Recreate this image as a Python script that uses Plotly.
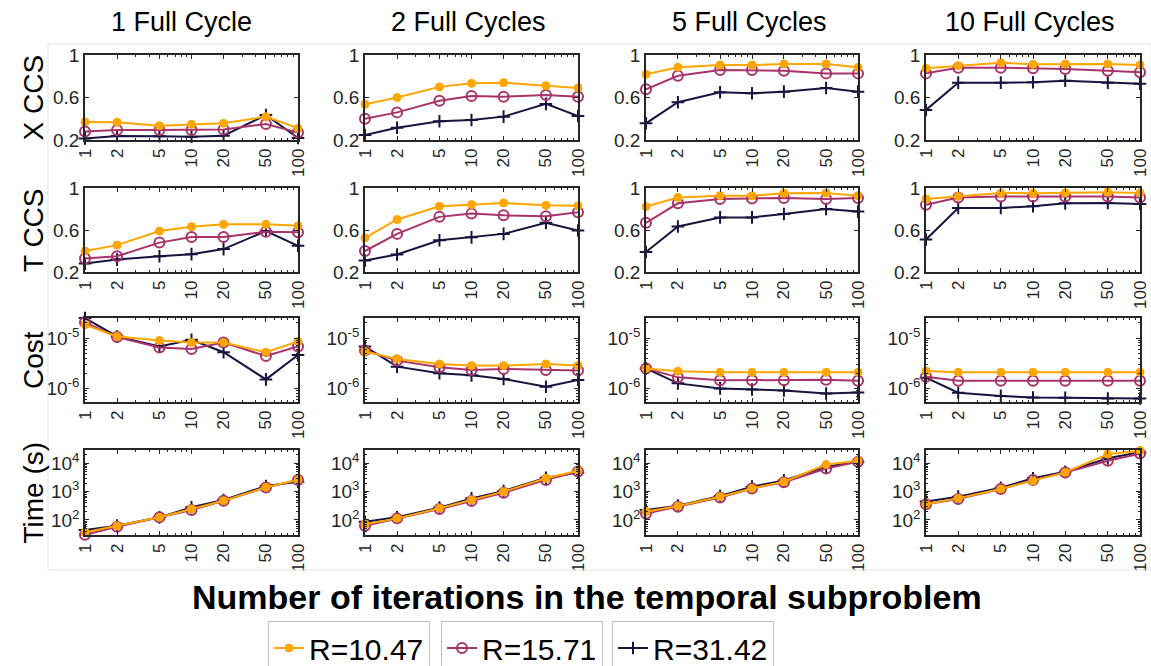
import plotly.graph_objects as go

W, H = 1151, 666

iterations = [1, 2, 5, 10, 20, 50, 100]
tick_labels = ["1", "2", "5", "10", "20", "50", "100"]
cycle_titles = ["1 Full Cycle", "2 Full Cycles", "5 Full Cycles", "10 Full Cycles"]
row_labels = ["X CCS", "T CCS", "Cost", "Time (s)"]
series_names = ["R=10.47", "R=15.71", "R=31.42"]

# X CCS per cycle column
xccs_R1047 = [[0.37, 0.367, 0.335, 0.348, 0.357, 0.42, 0.31],
              [0.536, 0.60, 0.70, 0.733, 0.74, 0.71, 0.69],
              [0.818, 0.884, 0.906, 0.906, 0.915, 0.915, 0.884],
              [0.875, 0.90, 0.928, 0.912, 0.915, 0.915, 0.906]]
xccs_R1571 = [[0.28, 0.295, 0.295, 0.295, 0.30, 0.35, 0.27],
              [0.40, 0.46, 0.57, 0.614, 0.608, 0.624, 0.608],
              [0.677, 0.805, 0.859, 0.859, 0.852, 0.827, 0.827],
              [0.827, 0.88, 0.88, 0.875, 0.868, 0.852, 0.837]]
xccs_R3142 = [[0.215, 0.237, 0.235, 0.23, 0.24, 0.435, 0.22],
              [0.247, 0.316, 0.376, 0.388, 0.42, 0.54, 0.426],
              [0.357, 0.555, 0.649, 0.64, 0.655, 0.69, 0.655],
              [0.483, 0.74, 0.74, 0.743, 0.758, 0.74, 0.73]]

# T CCS
tccs_R1047 = [[0.40, 0.456, 0.59, 0.632, 0.654, 0.654, 0.64],
              [0.525, 0.70, 0.826, 0.842, 0.858, 0.835, 0.83],
              [0.823, 0.91, 0.927, 0.927, 0.95, 0.953, 0.927],
              [0.896, 0.92, 0.953, 0.95, 0.953, 0.96, 0.953]]
tccs_R1571 = [[0.328, 0.35, 0.48, 0.533, 0.533, 0.584, 0.578],
              [0.40, 0.563, 0.725, 0.756, 0.74, 0.73, 0.77],
              [0.668, 0.854, 0.896, 0.90, 0.905, 0.896, 0.905],
              [0.84, 0.91, 0.918, 0.918, 0.92, 0.92, 0.91]]
tccs_R3142 = [[0.28, 0.318, 0.35, 0.37, 0.418, 0.59, 0.45],
              [0.31, 0.367, 0.503, 0.53, 0.563, 0.668, 0.595],
              [0.39, 0.633, 0.72, 0.72, 0.753, 0.80, 0.775],
              [0.51, 0.81, 0.81, 0.826, 0.854, 0.857, 0.848]]

# Cost
cost_R1047 = [[1.85e-5, 1.08e-5, 9.0e-6, 8.2e-6, 8.2e-6, 5.25e-6, 8.6e-6],
              [5.4e-6, 3.86e-6, 3.07e-6, 2.84e-6, 2.84e-6, 3.07e-6, 2.84e-6],
              [2.5e-6, 2.2e-6, 2.09e-6, 2.09e-6, 2.09e-6, 2.09e-6, 2.09e-6],
              [2.22e-6, 2.09e-6, 2.09e-6, 2.09e-6, 2.09e-6, 2.09e-6, 2.09e-6]]
cost_R1571 = [[2.06e-5, 1.05e-5, 6.5e-6, 6.1e-6, 8.2e-6, 4.4e-6, 6.8e-6],
              [5.67e-6, 3.57e-6, 2.63e-6, 2.33e-6, 2.44e-6, 2.33e-6, 2.26e-6],
              [2.5e-6, 1.66e-6, 1.45e-6, 1.45e-6, 1.45e-6, 1.48e-6, 1.42e-6],
              [1.71e-6, 1.42e-6, 1.42e-6, 1.42e-6, 1.42e-6, 1.42e-6, 1.42e-6]]
cost_R3142 = [[2.5e-5, 1.08e-5, 6.8e-6, 9.3e-6, 5.25e-6, 1.51e-6, 4.6e-6],
              [6.8e-6, 2.71e-6, 2.0e-6, 1.82e-6, 1.54e-6, 1.08e-6, 1.47e-6],
              [2.5e-6, 1.26e-6, 1.0e-6, 9.5e-7, 9.1e-7, 7.9e-7, 8.3e-7],
              [1.63e-6, 8.2e-7, 7.1e-7, 6.6e-7, 6.5e-7, 6.3e-7, 6.3e-7]]

# Time (s)
time_R1047 = [[37, 62, 124, 245, 480, 1420, 2600],
              [71, 114, 258, 510, 1000, 2960, 5500],
              [197, 310, 665, 1300, 2250, 9100, 12300],
              [360, 580, 1240, 2400, 4800, 21000, 28000]]
time_R1571 = [[30, 58, 124, 225, 480, 1390, 2600],
              [63, 114, 244, 470, 920, 2600, 5100],
              [170, 295, 620, 1300, 2150, 6600, 11400],
              [360, 550, 1240, 2600, 4700, 12300, 22000]]
time_R3142 = [[44, 63, 124, 280, 510, 1580, 2250],
              [87, 124, 273, 580, 1060, 3100, 4700],
              [225, 320, 700, 1500, 2500, 7600, 11400],
              [445, 665, 1380, 2950, 5000, 15000, 24500]]

metrics = [
    (xccs_R1047, xccs_R1571, xccs_R3142),
    (tccs_R1047, tccs_R1571, tccs_R3142),
    (cost_R1047, cost_R1571, cost_R3142),
    (time_R1047, time_R1571, time_R3142),
]

colors = ["#FFA500", "#A8336B", "#16153F"]
markers = [dict(symbol="circle", size=8, color="#FFA500", line=dict(width=1, color="#FFA500")),
           dict(symbol="circle-open", size=10, color="#A8336B", line=dict(width=2, color="#A8336B")),
           dict(symbol="cross-thin", size=9, color="#16153F", line=dict(width=2, color="#16153F"))]

cols_px = [(85, 298), (365, 578), (646, 858), (926, 1140)]
rows_px = [(55, 140), (188, 272), (318, 402), (450, 535)]

TXT = "#262626"
FONT = "Liberation Sans, Arial, sans-serif"

fig = go.Figure()
layout = dict(
    width=W, height=H, margin=dict(l=0, r=0, t=0, b=0, autoexpand=False),
    paper_bgcolor="white", plot_bgcolor="white",
    font=dict(family=FONT, color=TXT),
    annotations=[], shapes=[],
)

legend_names = ["legend", "legend2", "legend3"]

idx = 0
for r in range(4):
    for c in range(4):
        idx += 1
        xa = "x" if idx == 1 else f"x{idx}"
        ya = "y" if idx == 1 else f"y{idx}"
        xkey = "xaxis" if idx == 1 else f"xaxis{idx}"
        ykey = "yaxis" if idx == 1 else f"yaxis{idx}"
        x0, x1 = cols_px[c]
        y0, y1 = rows_px[r]
        layout[xkey] = dict(
            domain=[x0 / W, x1 / W], anchor=ya, type="log", range=[0, 2],
            tickmode="array", tickvals=iterations, ticktext=tick_labels,
            tickangle=-90, ticks="inside", ticklen=4, tickwidth=1, tickcolor=TXT,
            showline=True, linecolor=TXT, linewidth=1.5, mirror="ticks",
            showgrid=False, zeroline=False, automargin=False,
            tickfont=dict(size=17, color=TXT, family=FONT),
            minor=dict(ticks="inside", ticklen=2, tickcolor=TXT, dtick="D1", showgrid=False),
        )
        ydict = dict(
            domain=[1 - y1 / H, 1 - y0 / H], anchor=xa,
            ticks="inside", ticklen=4, tickwidth=1, tickcolor=TXT,
            showline=True, linecolor=TXT, linewidth=1.5, mirror="ticks",
            showgrid=False, zeroline=False, automargin=False,
            tickfont=dict(size=19, color=TXT, family=FONT),
        )
        if r < 2:
            ydict.update(range=[0.2, 1], tickmode="array", tickvals=[0.2, 0.6, 1],
                         ticktext=["0.2", "0.6", "1"])
        elif r == 2:
            ydict.update(type="log", range=[-6.27, -4.6], tickmode="array",
                         tickvals=[1e-6, 1e-5], ticktext=["10<sup>-6</sup>", "10<sup>-5</sup>"],
                         minor=dict(ticks="inside", ticklen=2, tickcolor=TXT, dtick="D1", showgrid=False))
        else:
            ydict.update(type="log", range=[1.47, 4.47], tickmode="array",
                         tickvals=[100, 1000, 10000],
                         ticktext=["10<sup>2</sup>", "10<sup>3</sup>", "10<sup>4</sup>"],
                         minor=dict(ticks="inside", ticklen=2, tickcolor=TXT, dtick="D1", showgrid=False))
        layout[ykey] = ydict

        series = metrics[r]
        for s in [2, 1, 0]:
            fig.add_trace(go.Scatter(
                x=iterations, y=series[s][c], mode="lines+markers",
                name=series_names[s], xaxis=xa, yaxis=ya,
                line=dict(color=colors[s], width=2), marker=markers[s],
                cliponaxis=False,
                showlegend=(idx == 1), legend=legend_names[s],
            ))

# column titles
title_dx = [-10, -3, -3, -3]
for c in range(4):
    x0, x1 = cols_px[c]
    layout["annotations"].append(dict(
        text=cycle_titles[c], x=((x0 + x1) / 2 + title_dx[c]) / W, y=1 - 22 / H,
        xref="paper", yref="paper", showarrow=False, xanchor="center", yanchor="middle",
        font=dict(size=27, color="black", family=FONT)))
# row labels
for r in range(4):
    y0, y1 = rows_px[r]
    layout["annotations"].append(dict(
        text=row_labels[r], x=33 / W, y=1 - ((y0 + y1) / 2) / H, textangle=-90,
        xref="paper", yref="paper", showarrow=False, xanchor="center", yanchor="middle",
        font=dict(size=28, color="black", family=FONT)))
# shared x label
layout["annotations"].append(dict(
    text="<b>Number of iterations in the temporal subproblem</b>", x=587 / W, y=1 - 597 / H,
    xref="paper", yref="paper", showarrow=False, xanchor="center", yanchor="middle",
    font=dict(size=34, color="black", family=FONT)))

# light frame around the tiled panels
layout["shapes"].append(dict(type="rect", xref="paper", yref="paper",
                             x0=48 / W, x1=1151 / W, y0=1 - 570 / H, y1=1 - 44 / H,
                             line=dict(color="#E3E3E3", width=1), fillcolor="rgba(0,0,0,0)"))

leg_x = [268, 441, 612]
for i, ln in enumerate(legend_names):
    layout[ln] = dict(x=leg_x[i] / W, y=1 - 621 / H, xanchor="left", yanchor="top",
                      orientation="h", bgcolor="white", bordercolor="#BFBFBF", borderwidth=1,
                      font=dict(size=30, color="black", family=FONT),
                      itemwidth=30, tracegroupgap=0)

fig.update_layout(**layout)
fig.write_html("out.html")
